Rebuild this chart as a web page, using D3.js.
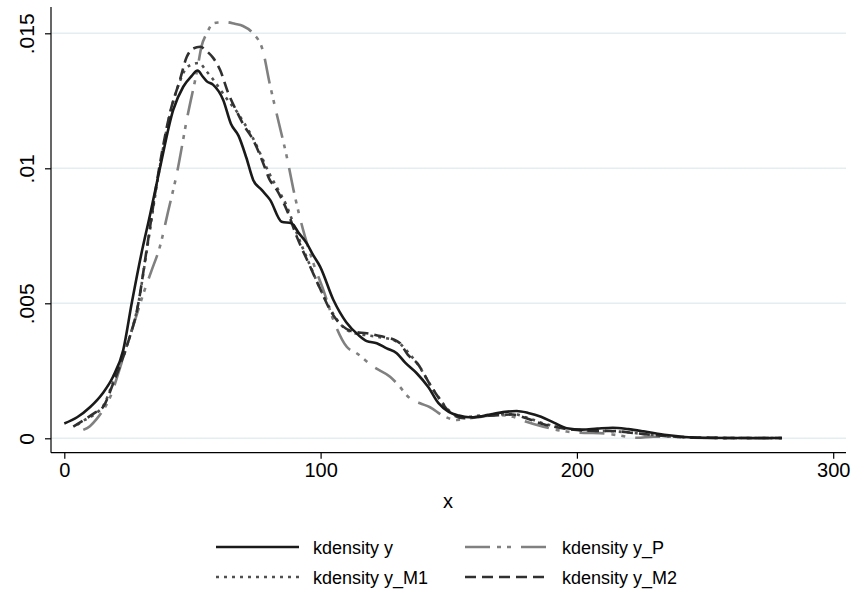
<!DOCTYPE html>
<html>
<head>
<meta charset="utf-8">
<script src="https://cdn.jsdelivr.net/npm/d3@7"></script>
<style>
  html, body { margin: 0; padding: 0; background: #ffffff; }
  svg { display: block; font-family: "Liberation Sans", Arial, Helvetica, sans-serif; }
</style>
</head>
<body>
<svg id="chart" width="853" height="592"></svg>
<script>
// ---- data ----
const xTicks = [0, 100, 200, 300];
const yTicks = [0, 0.005, 0.01, 0.015];
const yTickLabels = ["0", ".005", ".01", ".015"];
const xTitle = "x";

const seriesNames = ["kdensity y", "kdensity y_P", "kdensity y_M1", "kdensity y_M2"];

const xY = [0, 5, 10, 15, 19, 23, 26.3, 30, 33.5, 37.3, 42.5, 46.4, 49.5, 52, 54, 55.6, 58, 62, 65, 68, 71, 73.7, 77, 80.3, 84.8, 88.7, 91.5, 94.6, 97, 99.8, 105, 110, 114.7, 118, 121.9, 125.8, 129.7, 133, 137.5, 142, 146, 150, 154, 158, 162, 167, 172, 176.5, 181, 186, 191, 196, 202, 208, 214, 220, 226, 235, 242, 248, 260, 270, 280];
const dY = [0.00055, 0.00078, 0.00115, 0.00167, 0.00228, 0.00327, 0.005, 0.0068, 0.0083, 0.0100, 0.01216, 0.01302, 0.0134, 0.01362, 0.0134, 0.01322, 0.0131, 0.01253, 0.01165, 0.0112, 0.0104, 0.00957, 0.0092, 0.00883, 0.00802, 0.00796, 0.0076, 0.00722, 0.0068, 0.00636, 0.00512, 0.0043, 0.00383, 0.0036, 0.00352, 0.00333, 0.00315, 0.0028, 0.00241, 0.0019, 0.0013, 0.00098, 0.00084, 0.00078, 0.0008, 0.0009, 0.00098, 0.00101, 0.00094, 0.0008, 0.00058, 0.00037, 0.00032, 0.00036, 0.00039, 0.00034, 0.00026, 0.00012, 0.00005, 0.00002, 0.00001, 0.00001, 0.00001];

const xP = [7.4, 10, 12.5, 14.5, 17.8, 21.7, 25, 28, 31, 34, 37.3, 40.5, 43.9, 48, 51.9, 53.5, 55.6, 58.1, 60, 63.4, 66.5, 69.7, 73.6, 77.5, 80, 82.9, 86.8, 90, 93.2, 97.2, 101.1, 105, 110.2, 114.1, 120.6, 127.1, 129.7, 134.9, 138.8, 142.7, 147.9, 153.1, 160.9, 170, 175, 179.1, 186.9, 196, 203, 209, 215.6, 223.4, 229.8, 236, 245, 255, 270, 280];
const dP = [0.00031, 0.00045, 0.0007, 0.00095, 0.0015, 0.0026, 0.0036, 0.0045, 0.0054, 0.0062, 0.0071, 0.0084, 0.0098, 0.0119, 0.01367, 0.0145, 0.015, 0.01537, 0.0154, 0.01541, 0.01535, 0.01527, 0.0150, 0.01435, 0.0132, 0.0120, 0.01043, 0.00895, 0.00771, 0.00648, 0.00549, 0.00438, 0.00339, 0.00315, 0.00265, 0.00228, 0.00204, 0.00148, 0.0013, 0.00115, 0.00083, 0.00068, 0.00078, 0.00086, 0.0008, 0.00065, 0.00043, 0.00025, 0.0002, 0.00019, 0.00012, 0.00002, 0.00006, 0.00006, 0.00002, 0.00001, 0, 0];

const xM1 = [5, 8, 12, 15.2, 19.1, 24.3, 28.9, 32.1, 37, 41.2, 45, 47.5, 50, 52.5, 55.6, 58, 61, 64, 67.3, 70, 73.7, 77.6, 80, 82.9, 86.8, 90.7, 95.9, 100, 103.7, 108, 112.8, 118, 124.5, 128, 131, 134, 137.5, 144, 151.8, 156, 161, 168, 175, 180, 187, 196, 205, 214, 222, 230, 240, 250, 265, 280];
const dM1 = [0.0005, 0.00068, 0.0009, 0.0012, 0.0021, 0.0034, 0.005, 0.0069, 0.0099, 0.0120, 0.0132, 0.0137, 0.01385, 0.0139, 0.01358, 0.0133, 0.0129, 0.0125, 0.0121, 0.0117, 0.0111, 0.0103, 0.0098, 0.0093, 0.0086, 0.0076, 0.0064, 0.0055, 0.0048, 0.0042, 0.0039, 0.00382, 0.00372, 0.00365, 0.0035, 0.0032, 0.0028, 0.0018, 0.0009, 0.00078, 0.00083, 0.00088, 0.0009, 0.00078, 0.00055, 0.00036, 0.00028, 0.00026, 0.0002, 0.00012, 0.00005, 0.00002, 0.00001, 0.00001];

const xM2 = [3.5, 8, 12, 15.2, 19.1, 24.3, 28.9, 32.1, 37, 41.2, 45.1, 47.8, 50, 53, 56, 58, 60.8, 64, 67.3, 70, 73.7, 77.6, 80, 82.9, 86.8, 90.7, 95.9, 100, 103.7, 108, 112.8, 118, 124.5, 128, 131, 134, 137.5, 144, 151.8, 156, 161, 168, 175, 180, 187, 196, 205, 214, 222, 230, 240, 250, 265, 280];
const dM2 = [0.00043, 0.0007, 0.00095, 0.00117, 0.00204, 0.00339, 0.005, 0.00697, 0.0100, 0.01204, 0.01327, 0.01413, 0.01442, 0.0145, 0.0143, 0.0141, 0.01364, 0.01278, 0.0121, 0.0116, 0.01105, 0.01019, 0.0096, 0.0092, 0.00846, 0.00747, 0.00636, 0.0055, 0.00475, 0.0042, 0.00395, 0.00389, 0.00376, 0.00368, 0.00352, 0.0031, 0.0028, 0.00179, 0.00086, 0.00074, 0.0008, 0.00085, 0.00088, 0.00075, 0.00052, 0.00035, 0.00028, 0.00027, 0.0002, 0.00012, 0.00005, 0.00002, 0.00001, 0.00001];

// ---- styles ----
const styles = [
  { color: "#1a1a1a", width: 2.6, dash: null },
  { color: "#808080", width: 2.6, dash: "25,7,4,6,4,10" },
  { color: "#505050", width: 2.6, dash: "3,5" },
  { color: "#303030", width: 2.6, dash: "11,6" }
];

const series = [
  { name: seriesNames[0], xs: xY, ds: dY },
  { name: seriesNames[1], xs: xP, ds: dP },
  { name: seriesNames[2], xs: xM1, ds: dM1 },
  { name: seriesNames[3], xs: xM2, ds: dM2 }
];

const svg = d3.select("#chart");
const plotLeft = 51, plotRight = 846, plotTop = 7, plotBottom = 452.7;

const x = d3.scaleLinear().domain([0, 300]).range([64.3, 833.2]);
const y = d3.scaleLinear().domain([0, 0.015]).range([438.3, 33.3]);

// gridlines
svg.append("g").selectAll("line").data(yTicks).join("line")
  .attr("x1", plotLeft).attr("x2", plotRight)
  .attr("y1", d => y(d)).attr("y2", d => y(d))
  .attr("stroke", "#e4edf0").attr("stroke-width", 1.5);

// curves (draw y_P first so black lines sit on top)
const line = d3.line().x(d => x(d[0])).y(d => y(d[1])).curve(d3.curveMonotoneX);
const order = [1, 2, 3, 0];
order.forEach(i => {
  const s = series[i];
  const pts = s.xs.map((v, k) => [v, s.ds[k]]);
  svg.append("path").datum(pts)
    .attr("d", line)
    .attr("fill", "none")
    .attr("stroke", styles[i].color)
    .attr("stroke-width", styles[i].width)
    .attr("stroke-linejoin", "round")
    .attr("stroke-dasharray", styles[i].dash);
});

// x axis
const xAxis = d3.axisBottom(x).tickValues(xTicks).tickSize(6).tickPadding(4).tickFormat(d3.format("d"));
const gx = svg.append("g").attr("transform", `translate(0,${plotBottom})`).call(xAxis);
gx.select(".domain").attr("d", `M${plotLeft},0H${plotRight}`).attr("stroke", "#000").attr("stroke-width", 1.2);
gx.selectAll(".tick line").attr("stroke", "#000").attr("stroke-width", 1.2);
gx.selectAll(".tick text").attr("font-size", 20).attr("fill", "#000")
  .attr("font-family", '"Liberation Sans", Arial, Helvetica, sans-serif');

// y axis
const yAxis = d3.axisLeft(y).tickValues(yTicks).tickSize(6).tickFormat((d, i) => yTickLabels[i]);
const gy = svg.append("g").attr("transform", `translate(${plotLeft},0)`).call(yAxis);
gy.select(".domain").attr("d", `M0,${plotTop}V${plotBottom}`).attr("stroke", "#000").attr("stroke-width", 1.2);
gy.selectAll(".tick line").attr("stroke", "#000").attr("stroke-width", 1.2);
gy.selectAll(".tick text")
  .attr("font-size", 21).attr("fill", "#000")
  .attr("font-family", '"Liberation Sans", Arial, Helvetica, sans-serif')
  .attr("x", null).attr("dy", null)
  .attr("text-anchor", "middle")
  .attr("transform", "translate(-17,0) rotate(-90)");

// x title
svg.append("text").attr("x", 448).attr("y", 508)
  .attr("text-anchor", "middle").attr("font-size", 20).attr("fill", "#000")
  .text(xTitle);

// legend
const legendPos = [
  { lx: 216, tx: 313, y: 547 },
  { lx: 465, tx: 562, y: 547 },
  { lx: 216, tx: 313, y: 577 },
  { lx: 465, tx: 562, y: 577 }
];
const lg = svg.append("g");
series.forEach((s, i) => {
  const p = legendPos[i];
  lg.append("line").attr("x1", p.lx).attr("x2", p.lx + 83)
    .attr("y1", p.y).attr("y2", p.y)
    .attr("stroke", styles[i].color).attr("stroke-width", styles[i].width)
    .attr("stroke-dasharray", styles[i].dash);
  lg.append("text").attr("x", p.tx).attr("y", p.y + 6.5)
    .attr("font-size", 18).attr("fill", "#000").text(s.name);
});
</script>
</body>
</html>
